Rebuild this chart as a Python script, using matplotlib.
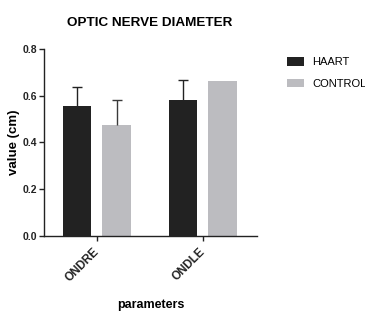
import matplotlib
matplotlib.use("Agg")
import matplotlib.pyplot as plt
import numpy as np

categories = ["ONDRE", "ONDLE"]
haart = [0.555, 0.583]
haart_err = [0.082, 0.083]
control = [0.474, 0.663]
control_err = [0.106, 0.0]
series_names = ["HAART", "CONTROL"]
yticks = [0.0, 0.2, 0.4, 0.6, 0.8]

plt.rcParams['font.family'] = ["Liberation Sans", "DejaVu Sans"]

fig = plt.figure(figsize=(3.65, 3.13), dpi=100)
ax = fig.add_axes([0.1205, 0.247, 0.5835, 0.596])

x = np.arange(len(categories))
w = 0.27
off = 0.187
b1 = ax.bar(x - off, haart, w, color="#222222", label=series_names[0], zorder=2)
b2 = ax.bar(x + off, control, w, color="#bcbcc0", label=series_names[1], zorder=2)

def up_err(xs, vals, errs, color):
    xs = [a for a, e in zip(xs, errs) if e > 0]
    vs = [v for v, e in zip(vals, errs) if e > 0]
    es = [e for e in errs if e > 0]
    if not xs:
        return
    _, caps, _ = ax.errorbar(xs, vs, yerr=[np.zeros(len(es)), es], fmt="none",
                             ecolor=color, elinewidth=1.0, capsize=3.7,
                             capthick=1.0, zorder=3)
    caps[0].set_visible(False)

up_err(x - off, haart, haart_err, "#222222")
up_err(x + off, control, control_err, "#3a3a3a")

ax.set_xlim(-0.5, 1.51)
ax.set_ylim(0, 0.8)
ax.set_yticks(yticks)
ax.set_yticklabels([f"{t:.1f}" for t in yticks], fontsize=7.5, fontweight="bold")
ax.set_xticks(x)
ax.set_xticklabels(categories, rotation=45, ha="right", va="center",
                   rotation_mode="anchor", fontsize=8.5, fontweight="bold")
for s in ["top", "right"]:
    ax.spines[s].set_visible(False)
for s in ["left", "bottom"]:
    ax.spines[s].set_linewidth(1.0)
    ax.spines[s].set_color("#222222")
ax.tick_params(axis="y", direction="out", length=3.5, width=1.0, pad=1.5, colors="#222222")
ax.tick_params(axis="x", direction="out", length=3.5, width=1.0, pad=7, colors="#222222")
for lbl in ax.get_xticklabels():
    lbl.set_x(lbl.get_position()[0])

ax.set_ylabel("value (cm)", fontsize=9.5, fontweight="bold", va="center")
ax.yaxis.set_label_coords(-0.141, 0.5)
ax.set_xlabel("parameters", fontsize=9, fontweight="bold", va="center")
ax.xaxis.set_label_coords(0.5, -0.37)
fig.text(0.411, 0.927, "OPTIC NERVE DIAMETER", ha="center", va="center",
         fontsize=9.7, fontweight="bold")

fig.legend(handles=[b1, b2], labels=series_names, loc="upper left",
           bbox_to_anchor=(287 / 365, 1 - 57 / 313), frameon=False,
           fontsize=8, handlelength=1.55, handleheight=0.8, handletextpad=0.7,
           labelspacing=1.05, borderpad=0, borderaxespad=0)

fig.savefig("out.png", dpi=100)
